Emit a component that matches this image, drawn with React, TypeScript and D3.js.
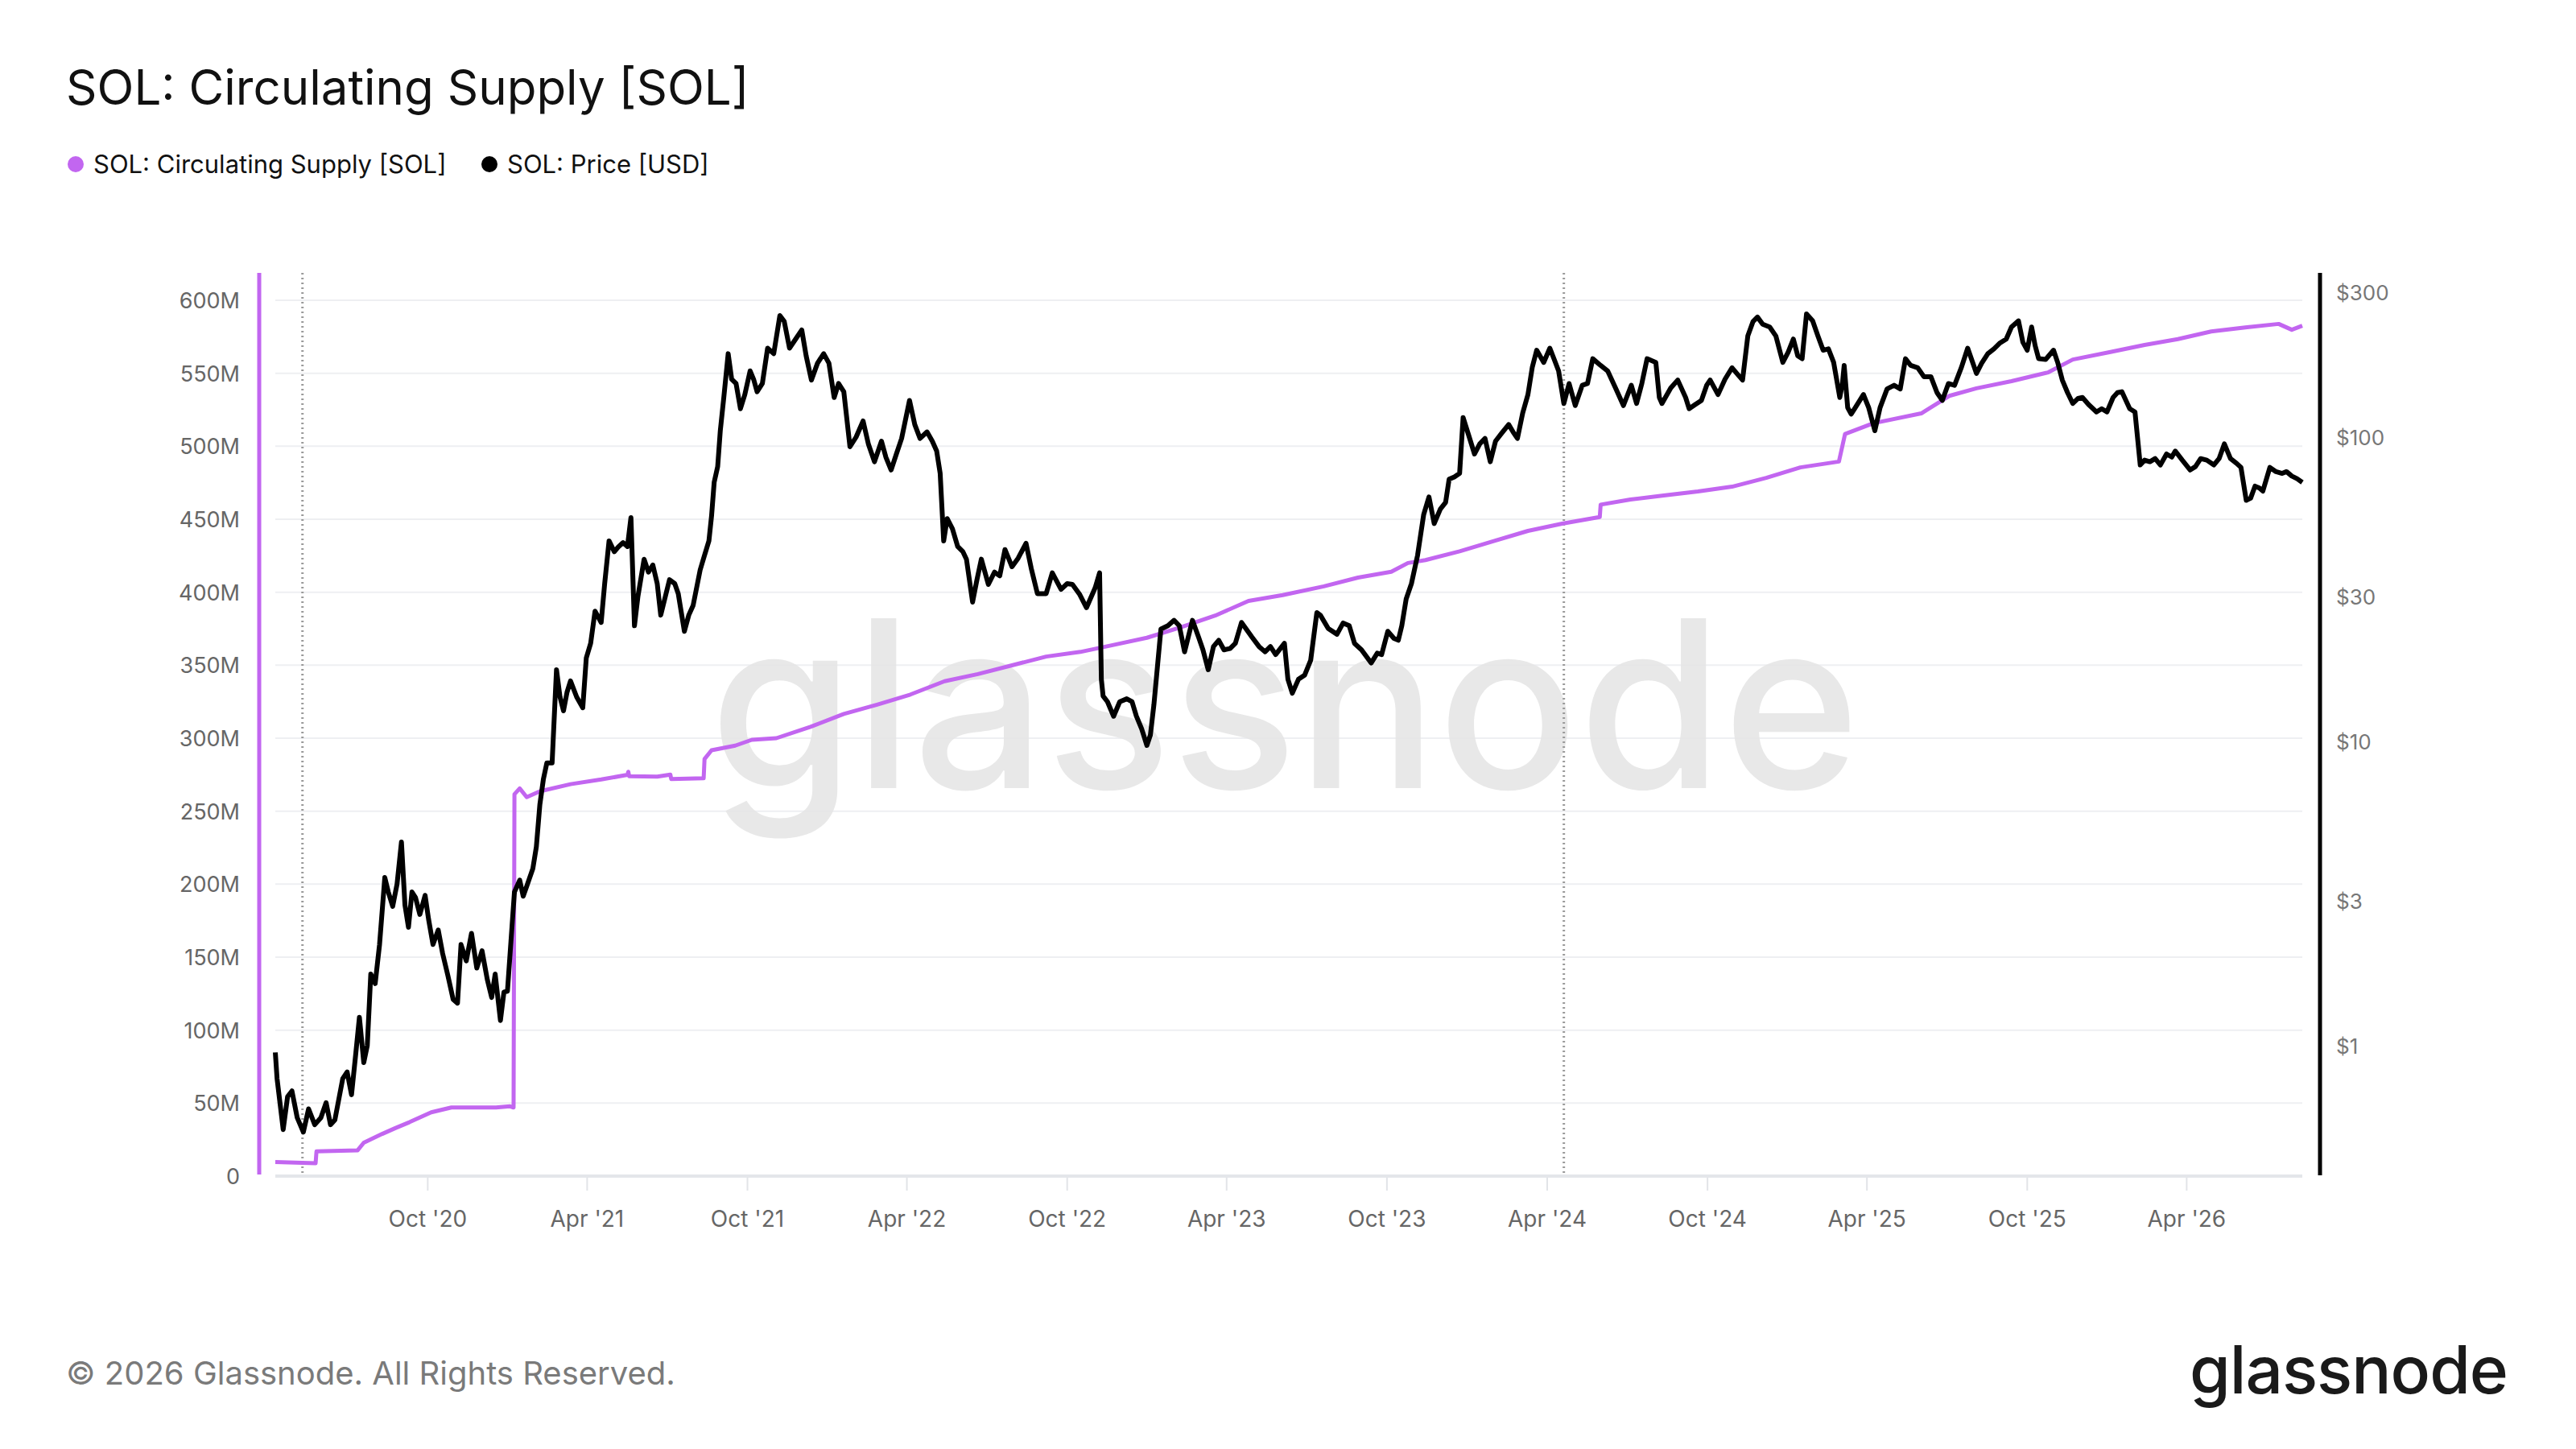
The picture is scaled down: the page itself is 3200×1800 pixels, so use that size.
import React from "react";
import * as d3 from "d3";

// values
const supplyTicks = [0, 50e6, 100e6, 150e6, 200e6, 250e6, 300e6, 350e6, 400e6, 450e6, 500e6, 550e6, 600e6];
const priceTicks = [1, 3, 10, 30, 100, 300];
const monthTicks = [
  "2020-10-01", "2021-04-01", "2021-10-01", "2022-04-01", "2022-10-01", "2023-04-01",
  "2023-10-01", "2024-04-01", "2024-10-01", "2025-04-01", "2025-10-01", "2026-04-01"
];
const halvings = ["2020-05-11", "2024-04-20"];

// circulating supply, millions of SOL
const supplySeries: [string, number][] = [
  ["2020-04-10", 9.6], ["2020-05-26", 8.8], ["2020-05-27", 16.9], ["2020-07-13", 17.7],
  ["2020-07-20", 22.9], ["2020-08-10", 28.9], ["2020-08-25", 32.9], ["2020-09-10", 36.9],
  ["2020-10-05", 43.7], ["2020-10-28", 47.0], ["2020-12-18", 47.0], ["2021-01-03", 47.8],
  ["2021-01-07", 47.0], ["2021-01-08", 261.6], ["2021-01-14", 265.6], ["2021-01-22", 259.6],
  ["2021-02-06", 263.6], ["2021-03-13", 268.5], ["2021-04-17", 271.7], ["2021-05-17", 274.9],
  ["2021-05-18", 277], ["2021-05-19", 274], ["2021-06-20", 273.7], ["2021-07-05", 275],
  ["2021-07-06", 272], ["2021-08-12", 272.5], ["2021-08-13", 285.7], ["2021-08-21", 291.7],
  ["2021-09-17", 294.9], ["2021-10-06", 298.9], ["2021-11-03", 300], ["2021-12-12", 307.8],
  ["2022-01-19", 316.6], ["2022-02-26", 323], ["2022-04-05", 329.9], ["2022-05-14", 339],
  ["2022-06-21", 343.9], ["2022-07-30", 349.9], ["2022-09-07", 355.9], ["2022-10-16", 359.1],
  ["2022-11-23", 363.9], ["2022-12-31", 368.8], ["2023-02-08", 376], ["2023-03-19", 384],
  ["2023-04-26", 394], ["2023-06-04", 398], ["2023-07-21", 404], ["2023-08-29", 410],
  ["2023-10-06", 414], ["2023-10-25", 420], ["2023-11-14", 422], ["2023-12-23", 428],
  ["2024-01-31", 435], ["2024-03-10", 442], ["2024-04-18", 447], ["2024-05-31", 451.5],
  ["2024-06-01", 460], ["2024-07-05", 463.5], ["2024-08-12", 466.3], ["2024-09-20", 469],
  ["2024-10-29", 472.3], ["2024-12-07", 478.3], ["2025-01-15", 485.5], ["2025-02-28", 489.5],
  ["2025-03-07", 508.4], ["2025-04-08", 515.7], ["2025-06-02", 522.5], ["2025-07-04", 534.5],
  ["2025-08-04", 539.7], ["2025-09-13", 544.6], ["2025-10-25", 550.6], ["2025-11-22", 559.4],
  ["2026-01-04", 564.6], ["2026-02-12", 569.4], ["2026-03-22", 573.4], ["2026-04-29", 578.6],
  ["2026-06-07", 581.4], ["2026-07-15", 583.8], ["2026-07-30", 579.8], ["2026-08-11", 582.6]
];

// SOL price, USD
const priceSeries: [string, number][] = [
  ["2020-04-10", 0.95], ["2020-04-12", 0.78], ["2020-04-19", 0.53], ["2020-04-24", 0.68],
  ["2020-04-29", 0.71], ["2020-05-05", 0.58], ["2020-05-12", 0.52], ["2020-05-18", 0.62],
  ["2020-05-25", 0.55], ["2020-06-01", 0.58], ["2020-06-07", 0.65], ["2020-06-12", 0.55],
  ["2020-06-17", 0.57], ["2020-06-26", 0.78], ["2020-07-01", 0.82], ["2020-07-06", 0.69],
  ["2020-07-11", 0.95], ["2020-07-15", 1.24], ["2020-07-20", 0.88], ["2020-07-24", 1.0],
  ["2020-07-28", 1.72], ["2020-08-02", 1.6], ["2020-08-07", 2.15], ["2020-08-13", 3.57],
  ["2020-08-17", 3.2], ["2020-08-22", 2.87], ["2020-08-27", 3.4], ["2020-09-01", 4.67],
  ["2020-09-05", 2.9], ["2020-09-09", 2.45], ["2020-09-13", 3.2], ["2020-09-17", 3.07],
  ["2020-09-22", 2.7], ["2020-09-28", 3.12], ["2020-10-02", 2.6], ["2020-10-07", 2.15],
  ["2020-10-13", 2.4], ["2020-10-18", 2.01], ["2020-10-24", 1.7], ["2020-10-30", 1.42],
  ["2020-11-04", 1.38], ["2020-11-08", 2.15], ["2020-11-14", 1.9], ["2020-11-20", 2.34],
  ["2020-11-26", 1.8], ["2020-12-02", 2.05], ["2020-12-08", 1.65], ["2020-12-13", 1.44],
  ["2020-12-17", 1.72], ["2020-12-23", 1.21], ["2020-12-27", 1.5], ["2020-12-31", 1.51],
  ["2021-01-04", 2.2], ["2021-01-08", 3.2], ["2021-01-14", 3.5], ["2021-01-18", 3.1],
  ["2021-01-22", 3.34], ["2021-01-29", 3.82], ["2021-02-02", 4.5], ["2021-02-06", 6.2],
  ["2021-02-10", 7.5], ["2021-02-14", 8.5], ["2021-02-20", 8.5], ["2021-02-25", 17.2],
  ["2021-03-01", 14], ["2021-03-05", 12.6], ["2021-03-09", 14.5], ["2021-03-13", 15.8],
  ["2021-03-20", 14], ["2021-03-27", 12.9], ["2021-03-31", 18.8], ["2021-04-05", 21],
  ["2021-04-10", 26.8], ["2021-04-17", 24.6], ["2021-04-21", 33], ["2021-04-26", 45.6],
  ["2021-05-02", 42], ["2021-05-07", 43.7], ["2021-05-12", 45], ["2021-05-17", 43.7],
  ["2021-05-21", 54.4], ["2021-05-25", 24], ["2021-05-29", 30], ["2021-06-05", 39.7],
  ["2021-06-10", 36], ["2021-06-15", 38], ["2021-06-20", 33], ["2021-06-24", 26],
  ["2021-07-04", 34], ["2021-07-10", 33], ["2021-07-14", 30.6], ["2021-07-21", 23],
  ["2021-07-26", 26], ["2021-07-31", 28], ["2021-08-08", 36.6], ["2021-08-12", 40],
  ["2021-08-18", 45.6], ["2021-08-21", 55], ["2021-08-24", 71], ["2021-08-28", 80],
  ["2021-08-31", 105], ["2021-09-04", 135], ["2021-09-09", 188], ["2021-09-13", 155],
  ["2021-09-18", 150], ["2021-09-23", 124], ["2021-09-28", 138], ["2021-10-04", 165],
  ["2021-10-08", 155], ["2021-10-12", 141], ["2021-10-18", 150], ["2021-10-24", 196],
  ["2021-10-31", 188], ["2021-11-07", 251], ["2021-11-12", 240], ["2021-11-18", 196],
  ["2021-11-25", 210], ["2021-12-02", 225], ["2021-12-07", 185], ["2021-12-13", 154],
  ["2021-12-20", 175], ["2021-12-27", 188], ["2022-01-02", 175], ["2022-01-08", 135],
  ["2022-01-13", 150], ["2022-01-19", 141], ["2022-01-26", 93], ["2022-02-02", 100],
  ["2022-02-10", 113], ["2022-02-16", 95], ["2022-02-23", 83], ["2022-03-03", 97],
  ["2022-03-08", 86], ["2022-03-14", 78], ["2022-03-20", 88], ["2022-03-26", 99],
  ["2022-04-04", 132], ["2022-04-10", 110], ["2022-04-16", 99], ["2022-04-24", 104],
  ["2022-04-30", 97], ["2022-05-05", 90], ["2022-05-09", 76], ["2022-05-13", 45.6],
  ["2022-05-17", 54], ["2022-05-23", 50], ["2022-05-29", 43.7], ["2022-06-04", 42],
  ["2022-06-08", 39.7], ["2022-06-15", 28.7], ["2022-06-20", 34], ["2022-06-25", 39.7],
  ["2022-07-03", 32.8], ["2022-07-10", 36], ["2022-07-16", 35], ["2022-07-22", 42.7],
  ["2022-07-30", 37.5], ["2022-08-06", 40], ["2022-08-15", 44.8], ["2022-08-21", 37],
  ["2022-08-28", 30.6], ["2022-09-07", 30.6], ["2022-09-14", 35.8], ["2022-09-24", 31.6],
  ["2022-10-01", 33], ["2022-10-07", 32.8], ["2022-10-15", 30.5], ["2022-10-23", 27.5],
  ["2022-11-02", 32], ["2022-11-07", 35.8], ["2022-11-09", 16], ["2022-11-11", 14.1],
  ["2022-11-16", 13.5], ["2022-11-23", 12.1], ["2022-11-30", 13.5], ["2022-12-08", 13.8],
  ["2022-12-14", 13.5], ["2022-12-19", 12.1], ["2022-12-25", 11], ["2022-12-31", 9.7],
  ["2023-01-04", 10.5], ["2023-01-08", 13.2], ["2023-01-16", 23.4], ["2023-01-24", 24],
  ["2023-01-31", 25], ["2023-02-06", 24], ["2023-02-12", 19.7], ["2023-02-21", 25],
  ["2023-02-28", 22], ["2023-03-05", 20], ["2023-03-11", 17.2], ["2023-03-17", 20.5],
  ["2023-03-23", 21.5], ["2023-03-29", 20], ["2023-04-05", 20.2], ["2023-04-11", 21],
  ["2023-04-18", 24.6], ["2023-04-30", 22], ["2023-05-08", 20.5], ["2023-05-15", 19.7],
  ["2023-05-21", 20.5], ["2023-05-27", 19.3], ["2023-06-06", 21], ["2023-06-10", 16],
  ["2023-06-15", 14.4], ["2023-06-22", 16], ["2023-06-29", 16.5], ["2023-07-06", 18.5],
  ["2023-07-13", 26.5], ["2023-07-17", 26], ["2023-07-26", 23.5], ["2023-08-05", 22.5],
  ["2023-08-12", 24.5], ["2023-08-19", 24], ["2023-08-25", 21], ["2023-09-02", 20],
  ["2023-09-13", 18.1], ["2023-09-20", 19.5], ["2023-09-25", 19.3], ["2023-10-02", 23],
  ["2023-10-09", 21.8], ["2023-10-14", 21.5], ["2023-10-18", 24], ["2023-10-23", 29.4],
  ["2023-10-29", 33], ["2023-11-05", 40.9], ["2023-11-12", 55.7], ["2023-11-18", 63.6],
  ["2023-11-24", 52], ["2023-12-01", 58], ["2023-12-07", 61], ["2023-12-11", 72.7],
  ["2023-12-17", 74], ["2023-12-23", 76], ["2023-12-27", 116], ["2024-01-03", 100],
  ["2024-01-09", 88], ["2024-01-15", 95], ["2024-01-21", 99], ["2024-01-27", 83],
  ["2024-02-02", 97], ["2024-02-09", 103], ["2024-02-17", 110], ["2024-02-22", 104],
  ["2024-02-27", 99], ["2024-03-04", 120], ["2024-03-10", 138], ["2024-03-15", 170],
  ["2024-03-20", 193], ["2024-03-28", 176], ["2024-04-04", 196], ["2024-04-09", 180],
  ["2024-04-14", 165], ["2024-04-20", 129], ["2024-04-26", 150], ["2024-05-03", 127],
  ["2024-05-11", 148], ["2024-05-17", 150], ["2024-05-23", 181], ["2024-06-01", 172],
  ["2024-06-09", 165], ["2024-06-18", 145], ["2024-06-27", 127], ["2024-07-06", 148],
  ["2024-07-12", 129], ["2024-07-18", 150], ["2024-07-24", 181], ["2024-08-03", 176],
  ["2024-08-07", 135], ["2024-08-10", 129], ["2024-08-20", 145], ["2024-08-28", 154],
  ["2024-09-06", 135], ["2024-09-10", 124], ["2024-09-17", 128], ["2024-09-24", 132],
  ["2024-09-30", 148], ["2024-10-04", 154], ["2024-10-13", 138], ["2024-10-21", 155],
  ["2024-10-29", 169], ["2024-11-05", 160], ["2024-11-10", 154], ["2024-11-16", 215],
  ["2024-11-22", 240], ["2024-11-27", 248], ["2024-12-03", 235], ["2024-12-11", 230],
  ["2024-12-18", 215], ["2024-12-26", 176], ["2025-01-01", 190], ["2025-01-07", 210],
  ["2025-01-12", 185], ["2025-01-17", 181], ["2025-01-22", 254], ["2025-01-29", 241],
  ["2025-02-04", 215], ["2025-02-10", 193], ["2025-02-16", 195], ["2025-02-22", 176],
  ["2025-03-01", 135], ["2025-03-04", 150], ["2025-03-06", 172], ["2025-03-10", 125],
  ["2025-03-14", 119], ["2025-03-21", 128], ["2025-03-28", 138], ["2025-04-03", 125],
  ["2025-04-10", 105], ["2025-04-16", 125], ["2025-04-24", 144], ["2025-05-02", 148],
  ["2025-05-09", 144], ["2025-05-15", 181], ["2025-05-21", 172], ["2025-05-29", 169],
  ["2025-06-05", 158], ["2025-06-13", 158], ["2025-06-20", 140], ["2025-06-26", 132],
  ["2025-07-03", 150], ["2025-07-10", 148], ["2025-07-18", 170], ["2025-07-25", 196],
  ["2025-08-04", 162], ["2025-08-10", 175], ["2025-08-17", 188], ["2025-08-24", 195],
  ["2025-08-31", 204], ["2025-09-07", 210], ["2025-09-13", 230], ["2025-09-21", 241],
  ["2025-09-26", 205], ["2025-10-01", 193], ["2025-10-06", 230], ["2025-10-10", 200],
  ["2025-10-14", 181], ["2025-10-22", 180], ["2025-10-31", 193], ["2025-11-05", 175],
  ["2025-11-10", 154], ["2025-11-16", 140], ["2025-11-22", 129], ["2025-11-28", 134],
  ["2025-12-03", 135], ["2025-12-10", 128], ["2025-12-19", 121], ["2025-12-25", 124],
  ["2025-12-31", 121], ["2026-01-07", 135], ["2026-01-12", 140], ["2026-01-17", 141],
  ["2026-01-26", 124], ["2026-02-01", 121], ["2026-02-07", 81], ["2026-02-12", 84],
  ["2026-02-18", 83], ["2026-02-24", 85], ["2026-03-02", 81], ["2026-03-09", 88],
  ["2026-03-15", 86], ["2026-03-19", 90], ["2026-03-27", 84], ["2026-04-05", 78],
  ["2026-04-11", 80], ["2026-04-17", 85], ["2026-04-24", 84], ["2026-05-02", 81],
  ["2026-05-08", 85], ["2026-05-14", 95], ["2026-05-21", 85], ["2026-05-28", 82],
  ["2026-06-02", 79.5], ["2026-06-08", 62], ["2026-06-13", 63], ["2026-06-18", 69],
  ["2026-06-23", 68], ["2026-06-27", 66.5], ["2026-07-05", 79.5], ["2026-07-12", 77],
  ["2026-07-19", 76], ["2026-07-24", 77], ["2026-07-30", 74.5], ["2026-08-05", 73],
  ["2026-08-11", 71]
];

const WIDTH = 3200;
const HEIGHT = 1800;
const PURPLE = "#c266f0";
const FONT = "Inter, 'Noto Sans', sans-serif";

const parse = d3.utcParse("%Y-%m-%d");

export default function App() {
  const x = d3.scaleUtc()
    .domain([parse("2020-04-10")!, parse("2026-08-11")!])
    .range([342, 2860]);
  const ySupply = d3.scaleLinear().domain([0, 600e6]).range([1461, 373]);
  const yPrice = d3.scaleLog().domain([1, 100]).range([1299, 543]);

  const plotTop = 339;
  const plotBottom = 1461;

  const supplyLine = d3.line<[string, number]>()
    .x(d => x(parse(d[0])!))
    .y(d => ySupply(d[1] * 1e6));
  const priceLine = d3.line<[string, number]>()
    .x(d => x(parse(d[0])!))
    .y(d => yPrice(d[1]));

  const fmtMonth = d3.utcFormat("%b '%y");

  return (
    <svg
      width={WIDTH}
      height={HEIGHT}
      style={{ position: "absolute", left: 0, top: 0, background: "#fff" }}
      fontFamily={FONT}
    >
      <rect width={WIDTH} height={HEIGHT} fill="#fff" />

      {/* title and legend */}
      <text x={82} y={130} fontSize={60} fill="#111">SOL: Circulating Supply [SOL]</text>
      <circle cx={94} cy={204} r={10} fill={PURPLE} />
      <text x={116} y={215} fontSize={31} fill="#111">SOL: Circulating Supply [SOL]</text>
      <circle cx={608} cy={204} r={10} fill="#000" />
      <text x={630} y={215} fontSize={31} fill="#111">SOL: Price [USD]</text>

      {/* gridlines */}
      {supplyTicks.map(t => (
        <line key={t} x1={342} x2={2860} y1={ySupply(t)} y2={ySupply(t)}
          stroke={t === 0 ? "#e4e6ea" : "#eeeff2"} strokeWidth={t === 0 ? 4 : 2} />
      ))}

      {/* watermark */}
      <text x={1596} y={979} fontSize={290} fill="#e6e6e6" textAnchor="middle" fontWeight={500}
        opacity={0.9}>glassnode</text>

      {/* halving markers */}
      {halvings.map(h => (
        <line key={h} x1={x(parse(h)!)} x2={x(parse(h)!)} y1={plotTop} y2={plotBottom}
          stroke="#9a9a9a" strokeWidth={3} strokeDasharray="2,4" />
      ))}

      {/* x axis */}
      {monthTicks.map(m => {
        const px = x(parse(m)!);
        return (
          <g key={m}>
            <line x1={px} x2={px} y1={plotBottom + 2} y2={plotBottom + 18} stroke="#e2e4e8" strokeWidth={2} />
            <text x={px} y={1524} fontSize={28} fill="#666" textAnchor="middle">{fmtMonth(parse(m)!)}</text>
          </g>
        );
      })}

      {/* left axis */}
      <line x1={322} x2={322} y1={plotTop} y2={1459} stroke={PURPLE} strokeWidth={5} />
      {supplyTicks.map(t => (
        <text key={t} x={298} y={ySupply(t) + 10} fontSize={27} fill="#666" textAnchor="end">
          {t === 0 ? "0" : `${t / 1e6}M`}
        </text>
      ))}

      {/* right axis */}
      <line x1={2882} x2={2882} y1={plotTop} y2={1460} stroke="#000" strokeWidth={5} />
      {priceTicks.map(t => (
        <text key={t} x={2902} y={yPrice(t) + 10} fontSize={26} fill="#777">{`$${t}`}</text>
      ))}

      {/* series */}
      <path d={supplyLine(supplySeries) ?? ""} fill="none" stroke={PURPLE} strokeWidth={5}
        strokeLinejoin="round" />
      <path d={priceLine(priceSeries) ?? ""} fill="none" stroke="#000" strokeWidth={6}
        strokeLinejoin="round" />

      {/* footer */}
      <text x={82} y={1720} fontSize={40} fill="#7a7a7a">© 2026 Glassnode. All Rights Reserved.</text>
      <text x={3115} y={1731} fontSize={82} fill="#1a1a1a" textAnchor="end" fontWeight={500}
        letterSpacing={-1}>glassnode</text>
    </svg>
  );
}
